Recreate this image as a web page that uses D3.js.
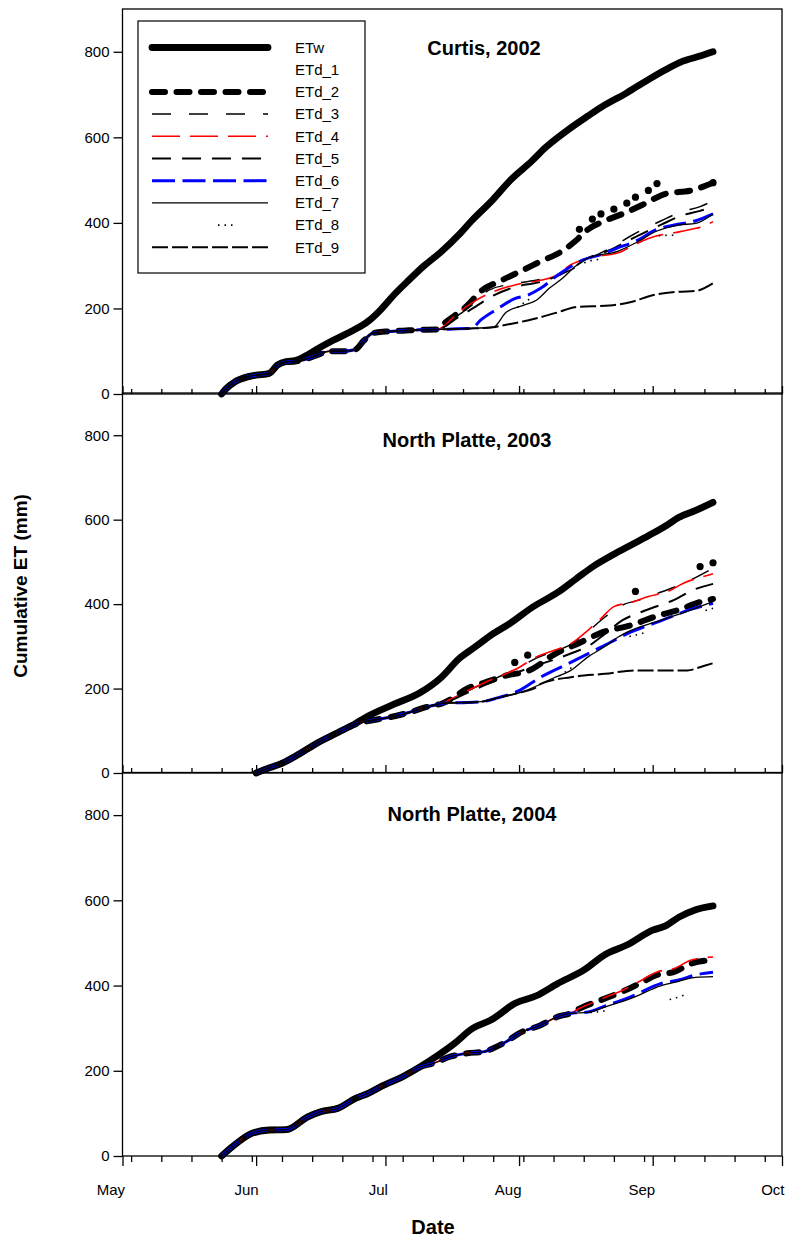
<!DOCTYPE html>
<html>
<head>
<meta charset="utf-8">
<script src="https://cdn.jsdelivr.net/npm/d3@7"></script>
<style>
  body { margin: 0; background: #fff; }
  svg text { font-family: "Liberation Sans", Arial, sans-serif; fill: #000; }
</style>
</head>
<body>
<script>
// Values. Dates are "MM-DD", values in mm.
// The ETd curves run together on a shared "base" until they branch off;
// every branch array starts at its branch point.

const monthTicks  = ["05-01", "06-01", "07-01", "08-01", "09-01", "10-01"];
const monthLabels = ["May", "Jun", "Jul", "Aug", "Sep", "Oct"];
const yTicks = [0, 200, 400, 600, 800];
const seriesNames = ["ETw", "ETd_1", "ETd_2", "ETd_3", "ETd_4", "ETd_5", "ETd_6", "ETd_7", "ETd_8", "ETd_9"];
const panelTitles = ["Curtis, 2002", "North Platte, 2003", "North Platte, 2004"];

// ---- Curtis, 2002
const etw2002 = [["05-24",0],["05-25",12],["05-27",28],["05-30",40],["06-01",44],["06-04",48],["06-06",68],
  ["06-08",76],["06-10",78],["06-13",92],["06-15",104],["06-19",126],["06-23",146],["06-27",170],["06-30",198],
  ["07-03",232],["07-06",262],["07-10",300],["07-14",333],["07-18",372],["07-21",405],["07-26",455],["07-30",500],
  ["08-04",545],["08-07",575],["08-12",615],["08-17",650],["08-20",670],["08-26",704],["08-31",735],["09-04",758],
  ["09-08",778],["09-12",790],["09-15",800]];
const base2002 = [["05-24",0],["05-25",12],["05-27",28],["05-30",40],["06-01",44],["06-04",48],["06-06",68],
  ["06-08",75],["06-10",76],["06-12",80],["06-15",90],["06-18",100],["06-21",100],["06-24",104],["06-26",125],
  ["06-28",142],["07-01",146],["07-05",148],["07-09",150],["07-14",151],["07-20",153],["07-26",156]];
const etd1_2002 = [["08-15",385],["08-18",409],["08-20",421],["08-23",432],["08-26",446],["08-28",460],
  ["08-31",476],["09-02",492],["09-15",494]];
const etd2_2002 = [["07-13",151],["07-15",168],["07-20",207],["07-23",239],["07-28",266],["08-02",290],["08-06",310],
  ["08-11",334],["08-14",357],["08-17",385],["08-20",401],["08-25",421],["08-30",444],["09-04",468],["09-10",476],["09-15",494]];
const etd3_2002 = [["07-13",151],["07-18",185],["07-22",215],["07-25",243],["07-31",258],["08-06",268],["08-09",276],
  ["08-13",290],["08-17",315],["08-22",340],["08-27",370],["09-03",405],["09-08",427],["09-12",438],["09-15",452]];
const etd4_2002 = [["07-13",151],["07-18",191],["07-22",219],["07-26",239],["07-31",255],["08-06",266],["08-09",274],
  ["08-13",302],["08-17",318],["08-24",330],["08-28",350],["09-01",367],["09-06",377],["09-10",385],["09-13",393],["09-15",403]];
const etd5_2002 = [["07-13",151],["07-18",180],["07-22",205],["07-26",230],["07-31",250],["08-06",262],["08-09",272],
  ["08-13",292],["08-17",318],["08-22",336],["08-27",362],["09-03",396],["09-08",418],["09-12",428],["09-15",438]];
const etd6_2002 = [["07-21",153],["07-23",172],["07-27",199],["07-31",223],["08-03",231],["08-06",247],["08-10",278],
  ["08-13",298],["08-16",314],["08-20",326],["08-24",342],["08-28",357],["09-02",385],["09-06",395],["09-11",405],["09-15",421]];
const etd7_2002 = [["07-26",156],["07-29",191],["08-02",207],["08-05",219],["08-08",247],["08-11",270],["08-14",298],
  ["08-17",318],["08-24",334],["08-28",353],["09-02",381],["09-07",395],["09-11",399],["09-15",421]];
const etd8_2002 = [["07-26",156],["08-01",205],["08-07",245],["08-11",270],["08-17",310],["08-23",320],["08-28",345],
  ["09-02",370],["09-07",372],["09-11",380],["09-15",395]];
const etd9_2002 = [["07-26",156],["07-28",160],["08-03",172],["08-10",191],["08-14",203],["08-22",207],["08-27",215],
  ["09-01",231],["09-07",239],["09-11",241],["09-15",259]];

// ---- North Platte, 2003
const etw2003 = [["06-01",0],["06-04",12],["06-07",23],["06-11",45],["06-15",70],["06-20",96],["06-24",117],
  ["06-27",135],["07-03",163],["07-09",190],["07-14",227],["07-18",270],["07-22",300],["07-26",330],["07-30",355],
  ["08-04",392],["08-10",428],["08-14",458],["08-18",488],["08-23",518],["08-27",540],["08-31",562],["09-04",585],
  ["09-07",605],["09-11",622],["09-15",641]];
const base2003 = [["06-01",0],["06-04",12],["06-07",23],["06-11",45],["06-15",70],["06-20",96],["06-24",115],
  ["06-28",125],["07-02",132],["07-06",142],["07-12",160],["07-15",166],["07-20",167],["07-24",170],["07-27",178],
  ["08-01",190],["08-05",203]];
const etd1_2003 = [["07-31",262],["08-03",279],["08-28",430],["09-12",489],["09-15",498]];
const etd2_2003 = [["07-14",164],["07-16",174],["07-20",200],["07-24",214],["07-28",228],["08-04",246],["08-09",280],
  ["08-15",308],["08-20",332],["08-27",350],["09-02",372],["09-07",386],["09-12",405],["09-15",412]];
const etd3_2003 = [["07-14",164],["07-20",194],["07-24",213],["07-28",231],["08-01",250],["08-05",272],["08-09",288],
  ["08-13",304],["08-17",335],["08-21",370],["08-25",398],["08-29",410],["09-02",425],["09-06",440],["09-10",458],["09-15",485]];
const etd4_2003 = [["07-14",164],["07-16",174],["07-20",195],["07-24",214],["07-28",231],["08-01",250],["08-05",275],
  ["08-09",290],["08-13",306],["08-17",338],["08-20",366],["08-23",394],["08-27",404],["08-31",418],["09-05",432],
  ["09-08",449],["09-13",466],["09-15",472]];
const etd5_2003 = [["07-14",164],["07-20",190],["07-24",208],["07-28",225],["08-01",240],["08-05",255],["08-09",268],
  ["08-13",283],["08-17",300],["08-21",330],["08-25",362],["08-29",380],["09-02",395],["09-06",410],["09-10",432],["09-15",448]];
const etd6_2003 = [["07-27",178],["08-01",195],["08-06",227],["08-13",262],["08-20",298],["08-27",334],["09-03",361],
  ["09-10",388],["09-15",402]];
const etd7_2003 = [["08-03",197],["08-09",225],["08-13",243],["08-17",275],["08-21",300],["08-24",322],["08-27",338],
  ["09-03",362],["09-09",383],["09-15",406]];
const etd8_2003 = [["08-05",203],["08-10",228],["08-15",262],["08-20",290],["08-25",318],["08-30",332],["09-05",355],
  ["09-10",375],["09-15",390]];
const etd9_2003 = [["08-05",203],["08-06",211],["08-13",227],["08-21",235],["08-28",243],["09-09",243],["09-13",254],["09-15",260]];

// ---- North Platte, 2004 (ETd_1, _3, _5, _9 not distinguishable)
const etw2004 = [["05-24",0],["05-27",26],["05-31",53],["06-04",61],["06-08",62],["06-13",92],["06-16",104],
  ["06-20",112],["06-24",135],["06-27",147],["06-30",163],["07-05",186],["07-09",209],["07-13",235],["07-17",264],
  ["07-21",298],["07-26",322],["07-31",358],["08-05",376],["08-10",405],["08-16",436],["08-21",473],["08-26",495],
  ["09-01",530],["09-04",540],["09-07",560],["09-11",578],["09-15",587]];
const base2004 = [["05-24",0],["05-27",26],["05-31",53],["06-04",61],["06-08",62],["06-13",92],["06-16",104],
  ["06-20",112],["06-24",135],["06-27",147],["06-30",163],["07-05",186],["07-09",209],["07-12",217],["07-16",233],
  ["07-20",241],["07-24",245],["07-26",253],["07-29",268],["08-01",288],["08-06",307],["08-10",327],["08-13",335]];
const etd2_2004 = [["08-13",335],["08-15",346],["08-20",366],["08-25",386],["08-29",405],["09-02",425],["09-06",432],
  ["09-10",452],["09-15",460]];
const etd4_2004 = [["08-13",335],["08-15",346],["08-20",368],["08-25",389],["08-29",410],["09-02",432],["09-06",440],
  ["09-10",460],["09-15",467]];
const etd6_2004 = [["08-13",335],["08-17",338],["08-21",352],["08-27",374],["09-03",405],["09-07",413],["09-11",425],["09-15",431]];
const etd7_2004 = [["08-13",335],["08-17",337],["08-21",350],["08-27",370],["09-03",400],["09-07",410],["09-11",419],["09-15",421]];
const etd8_2004 = [["08-13",335],["08-19",338],["08-25",348],["09-06",370],["09-11",386],["09-15",390]];

// ---------------------------------------------------------------
const panels = [
  { title: panelTitles[0], etw: etw2002, base: base2002, dots: etd1_2002,
    branches: { ETd_2: etd2_2002, ETd_3: etd3_2002, ETd_4: etd4_2002, ETd_5: etd5_2002,
                ETd_6: etd6_2002, ETd_7: etd7_2002, ETd_8: etd8_2002, ETd_9: etd9_2002 } },
  { title: panelTitles[1], etw: etw2003, base: base2003, dots: etd1_2003,
    branches: { ETd_2: etd2_2003, ETd_3: etd3_2003, ETd_4: etd4_2003, ETd_5: etd5_2003,
                ETd_6: etd6_2003, ETd_7: etd7_2003, ETd_8: etd8_2003, ETd_9: etd9_2003 } },
  { title: panelTitles[2], etw: etw2004, base: base2004, dots: [],
    branches: { ETd_2: etd2_2004, ETd_4: etd4_2004, ETd_6: etd6_2004, ETd_7: etd7_2004, ETd_8: etd8_2004 } }
];

// layout
const W = 785, H = 1238;
const plotLeft = 122.5, plotRight = 782;
const boxes = [ {top: 9,     bottom: 394,  titleX: 484, titleY: 55 },
                {top: 393,   bottom: 773,  titleX: 467, titleY: 447 },
                {top: 772.5, bottom: 1156, titleX: 472, titleY: 821 } ];

const style = {
  ETw:   { stroke: "#000",    width: 6.8, dash: null,                  cap: "round" },
  ETd_2: { stroke: "#000",    width: 6,   dash: "13,11.5",             cap: "round" },
  ETd_3: { stroke: "#000",    width: 1.5, dash: "19,18",               cap: "butt" },
  ETd_4: { stroke: "#ff0000", width: 1.6, dash: "28,10",               cap: "butt" },
  ETd_5: { stroke: "#000",    width: 2,   dash: "19,11",               cap: "butt" },
  ETd_6: { stroke: "#0000ff", width: 3,   dash: "23,7.5",              cap: "butt" },
  ETd_7: { stroke: "#000",    width: 1.3, dash: null,                  cap: "butt" },
  ETd_8: { stroke: "#000",    width: 1.6, dash: "1.5,5,1.5,5,1.5,66",  cap: "butt" },
  ETd_9: { stroke: "#000",    width: 2,   dash: "16,4",                cap: "butt" }
};

const parseDay = d3.timeParse("%m-%d");

const x = d3.scaleTime()
    .domain([parseDay("05-01"), parseDay("10-01")])
    .range([plotLeft, plotRight]);

const weekTicks = d3.timeDay.range(parseDay("05-03"), parseDay("10-01"), 7);
const monthDates = monthTicks.map(parseDay);

// base curve up to the branch point, then the branch itself
function branch(base, tail) {
  const start = parseDay(tail[0][0]);
  return base.filter(p => parseDay(p[0]) < start).concat(tail);
}

const svg = d3.select("body").append("svg")
    .attr("width", W)
    .attr("height", H);

panels.forEach((p, i) => {
  const box = boxes[i];
  const y = d3.scaleLinear().domain([0, 900]).range([box.bottom, box.top]);
  const g = svg.append("g");

  const line = d3.line()
      .x(d => x(parseDay(d[0])))
      .y(d => y(d[1]))
      .curve(d3.curveMonotoneX);

  // frame
  g.append("rect")
      .attr("x", plotLeft).attr("y", box.top)
      .attr("width", plotRight - plotLeft).attr("height", box.bottom - box.top)
      .attr("fill", "none").attr("stroke", "#000").attr("stroke-width", 1.3);

  // y axis
  const yAxis = g.append("g")
      .attr("transform", "translate(" + plotLeft + ",0)")
      .call(d3.axisLeft(y).tickValues(yTicks).tickSize(9).tickSizeOuter(0).tickPadding(4));
  yAxis.select(".domain").remove();
  yAxis.selectAll("line").attr("stroke-width", 1.3);
  yAxis.selectAll("text").attr("font-size", 15).attr("font-family", null);

  // x axis: inward ticks for the upper panels, outward for the last one
  const last = i === panels.length - 1;
  const mk = last ? d3.axisBottom : d3.axisTop;
  const minor = g.append("g")
      .attr("transform", "translate(0," + box.bottom + ")")
      .call(mk(x).tickValues(weekTicks).tickSize(last ? 6 : 5).tickSizeOuter(0).tickFormat(""));
  const major = g.append("g")
      .attr("transform", "translate(0," + box.bottom + ")")
      .call(mk(x).tickValues(monthDates).tickSize(last ? 10 : 8).tickSizeOuter(0)
            .tickFormat((d, k) => last ? monthLabels[k] : ""));
  minor.select(".domain").remove();
  major.select(".domain").remove();
  g.selectAll(".tick line").attr("stroke-width", 1.3);
  if (last) {
    major.selectAll("text")
        .attr("font-size", 15).attr("font-family", null)
        .attr("text-anchor", "end")
        .attr("x", 2)
        .attr("y", 39).attr("dy", 0);
  }

  // title
  g.append("text")
      .attr("x", box.titleX).attr("y", box.titleY)
      .attr("text-anchor", "middle")
      .attr("font-size", 20).attr("font-weight", "bold")
      .text(p.title);

  // ETw
  g.append("path")
      .datum(p.etw)
      .attr("d", line)
      .attr("fill", "none")
      .attr("stroke", style.ETw.stroke)
      .attr("stroke-width", style.ETw.width)
      .attr("stroke-linecap", "round")
      .attr("stroke-linejoin", "round");

  // ETd_1 shows as large dots
  g.selectAll(".etd1")
      .data(p.dots)
      .enter().append("circle")
      .attr("class", "etd1")
      .attr("cx", d => x(parseDay(d[0])))
      .attr("cy", d => y(d[1]))
      .attr("r", 3.6)
      .attr("fill", "#000");

  // ETd_2 ... ETd_9
  seriesNames.slice(2).forEach(name => {
    const tail = p.branches[name];
    if (!tail) return;
    const s = style[name];
    g.append("path")
        .datum(branch(p.base, tail))
        .attr("d", line)
        .attr("fill", "none")
        .attr("stroke", s.stroke)
        .attr("stroke-width", s.width)
        .attr("stroke-dasharray", s.dash)
        .attr("stroke-linecap", s.cap)
        .attr("stroke-linejoin", "round");
  });
});

// legend (top panel)
const legend = svg.append("g");
legend.append("rect")
    .attr("x", 138).attr("y", 21).attr("width", 227).attr("height", 252)
    .attr("fill", "#fff").attr("stroke", "#000").attr("stroke-width", 1.2);

seriesNames.forEach((name, k) => {
  const ly = 47.5 + k * 22.2;
  const s = style[name];
  if (s) {
    legend.append("line")
        .attr("x1", 152).attr("x2", 268)
        .attr("y1", ly).attr("y2", ly)
        .attr("stroke", s.stroke)
        .attr("stroke-width", s.width)
        .attr("stroke-dasharray", s.dash)
        .attr("stroke-dashoffset", name === "ETd_8" ? 14.5 : 0)
        .attr("stroke-linecap", s.cap);
  }
  legend.append("text")
      .attr("x", 295).attr("y", ly)
      .attr("dy", "0.35em")
      .attr("font-size", 15)
      .text(name);
});

// axis titles
svg.append("text")
    .attr("transform", "translate(27,586) rotate(-90)")
    .attr("text-anchor", "middle")
    .attr("font-size", 19).attr("font-weight", "bold")
    .text("Cumulative ET (mm)");

svg.append("text")
    .attr("x", 433).attr("y", 1234)
    .attr("text-anchor", "middle")
    .attr("font-size", 20).attr("font-weight", "bold")
    .text("Date");
</script>
</body>
</html>
